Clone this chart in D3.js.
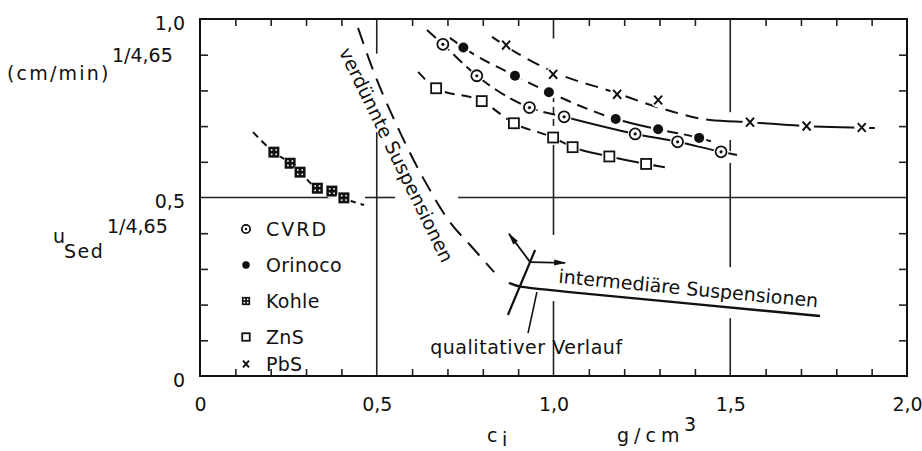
<!DOCTYPE html>
<html>
<head>
<meta charset="utf-8">
<script src="https://cdn.jsdelivr.net/npm/d3@7"></script>
<style>
body { margin: 0; background: #fff; }
text { font-family: "DejaVu Sans", sans-serif; fill: #111; font-size: 19px; }
</style>
</head>
<body>
<script>
// canvas and plot frame
const width = 922, height = 451;
const frameL = 200, frameR = 907, frameT = 19, frameB = 376;

// ---- data ----
// c_i in g/cm3, u_Sed^(1/4.65) in (cm/min)^(1/4.65)
const cvrdC = [0.687, 0.783, 0.932, 1.030, 1.231, 1.351, 1.474];
const cvrdU = [0.929, 0.841, 0.752, 0.726, 0.678, 0.656, 0.628];
const orinocoC = [0.745, 0.891, 0.987, 1.176, 1.296, 1.412];
const orinocoU = [0.920, 0.841, 0.795, 0.720, 0.691, 0.667];
const kohleC = [0.209, 0.255, 0.283, 0.332, 0.373, 0.407];
const kohleU = [0.627, 0.596, 0.571, 0.526, 0.518, 0.499];
const znsC = [0.668, 0.797, 0.888, 0.999, 1.054, 1.158, 1.262];
const znsU = [0.806, 0.770, 0.708, 0.668, 0.641, 0.615, 0.594];
const pbsC = [0.866, 0.999, 1.180, 1.296, 1.556, 1.716, 1.872];
const pbsU = [0.927, 0.845, 0.789, 0.773, 0.711, 0.700, 0.696];

// where the drawn trend lines begin and end
const cvrdEnds = [[0.642, 0.969], [1.519, 0.619]];
const orinocoEnds = [[0.707, 0.947], [1.460, 0.653]];
const kohleEnds = [[0.150, 0.683], [0.464, 0.479]];
const znsEnds = [[0.617, 0.852], [1.315, 0.585]];
// PbS trend line does not go through every point
const pbsLineC = [0.826, 0.891, 0.999, 1.168, 1.321, 1.443, 1.556, 1.697, 1.909];
const pbsLineU = [0.950, 0.908, 0.852, 0.796, 0.745, 0.717, 0.711, 0.701, 0.695];

// qualitative curves
const duenneC = [0.447, 0.495, 0.560, 0.631, 0.707, 0.764, 0.832];
const duenneU = [0.975, 0.843, 0.695, 0.555, 0.431, 0.367, 0.291];
const interC = [0.874, 0.905, 0.948, 1.754];
const interU = [0.261, 0.249, 0.244, 0.168];

const xTickVals = [0, 0.5, 1.0, 1.5, 2.0];
const yTickVals = [0, 0.5, 1.0];
const legendNames = ["CVRD", "Orinoco", "Kohle", "ZnS", "PbS"];

// ---- scales ----
const x = d3.scaleLinear().domain([0, 2]).range([frameL, frameR]);
const y = d3.scaleLinear().domain([0, 1]).range([frameB, frameT]);
const fmt = d => d === 0 ? "0" : d3.format(".1f")(d).replace(".", ",");

const svg = d3.select("body").append("svg")
  .attr("width", width).attr("height", height);
const defs = svg.append("defs");

defs.append("marker")
  .attr("id", "arrow")
  .attr("viewBox", "0 0 12 8")
  .attr("refX", 11).attr("refY", 4)
  .attr("markerUnits", "userSpaceOnUse")
  .attr("markerWidth", 13).attr("markerHeight", 8)
  .attr("orient", "auto")
  .append("path").attr("d", "M0,1 L12,4 L0,7 Z").attr("fill", "#111");

// ---- grid lines (interrupted where curves / labels cross) ----
const gridSegs = [
  {x: 0.5, y0: 0.903, y1: 1}, {x: 0.5, y0: 0, y1: 0.683},
  {x: 1.0, y0: 0.945, y1: 1}, {x: 1.0, y0: 0.633, y1: 0.787, dash: "7,5"},
  {x: 1.0, y0: 0.395, y1: 0.633}, {x: 1.0, y0: 0, y1: 0.21},
  {x: 1.5, y0: 0.739, y1: 1}, {x: 1.5, y0: 0.63, y1: 0.661},
  {x: 1.5, y0: 0.305, y1: 0.597}, {x: 1.5, y0: 0, y1: 0.162},
  {y: 0.5, x0: 0, x1: 0.375}, {y: 0.5, x0: 0.467, x1: 0.552},
  {y: 0.5, x0: 0.73, x1: 2}
];
svg.append("g").selectAll("line")
  .data(gridSegs)
  .enter().append("line")
  .attr("x1", d => d.x !== undefined ? x(d.x) : x(d.x0))
  .attr("x2", d => d.x !== undefined ? x(d.x) : x(d.x1))
  .attr("y1", d => d.x !== undefined ? y(d.y0) : y(d.y))
  .attr("y2", d => d.x !== undefined ? y(d.y1) : y(d.y))
  .attr("stroke", "#222").attr("stroke-width", 1.6)
  .attr("stroke-dasharray", d => d.dash || null);

// ---- minor ticks (inward) on all four sides ----
const notMajor = v => Math.abs(v * 2 - Math.round(v * 2)) > 1e-6;
const minorX = d3.range(1, 20).map(i => i / 10).filter(notMajor);
const minorY = d3.range(1, 10).map(i => i / 10).filter(notMajor);

function tickAxis(axis, tx, ty) {
  const g = svg.append("g").attr("transform", `translate(${tx},${ty})`).call(axis);
  g.select(".domain").remove();
  g.selectAll("line").attr("stroke", "#222").attr("stroke-width", 1.6);
  return g;
}
tickAxis(d3.axisBottom(x).tickValues(minorX).tickSize(-7).tickFormat(""), 0, frameB);
tickAxis(d3.axisTop(x).tickValues(minorX).tickSize(-7).tickFormat(""), 0, frameT);
tickAxis(d3.axisLeft(y).tickValues(minorY).tickSize(-8).tickFormat(""), frameL, 0);
tickAxis(d3.axisRight(y).tickValues(minorY).tickSize(-8).tickFormat(""), frameR, 0);

// tick labels
const xLab = svg.append("g").attr("transform", `translate(0,${frameB})`)
  .call(d3.axisBottom(x).tickValues(xTickVals).tickSize(0).tickPadding(22).tickFormat(fmt));
xLab.select(".domain").remove();
xLab.selectAll("text").attr("font-size", 19).attr("font-family", "DejaVu Sans").attr("fill", "#111");

const yLab = svg.append("g").attr("transform", `translate(${frameL},0)`)
  .call(d3.axisLeft(y).tickValues(yTickVals).tickSize(0).tickPadding(15).tickFormat(fmt));
yLab.select(".domain").remove();
yLab.selectAll("text").attr("font-size", 19).attr("font-family", "DejaVu Sans")
  .attr("fill", "#111").attr("dy", "0.55em");

// frame
svg.append("rect")
  .attr("x", frameL).attr("y", frameT)
  .attr("width", frameR - frameL).attr("height", frameB - frameT)
  .attr("fill", "none").attr("stroke", "#111").attr("stroke-width", 2);

// ---- trend lines ----
const line = d3.line().x(d => x(d[0])).y(d => y(d[1])).curve(d3.curveMonotoneX);
const zip = (a, b) => a.map((v, i) => [v, b[i]]);
const withEnds = (c, u, ends) => [ends[0], ...zip(c, u), ends[1]];

let clipId = 0;
// sections: [from c, to c, dasharray or null]
function trend(pts, sections, w) {
  sections.forEach(s => {
    const id = "clip" + (clipId++);
    defs.append("clipPath").attr("id", id).append("rect")
      .attr("x", x(s[0])).attr("y", 0)
      .attr("width", x(s[1]) - x(s[0])).attr("height", height);
    svg.append("path")
      .attr("d", line(pts))
      .attr("clip-path", `url(#${id})`)
      .attr("fill", "none").attr("stroke", "#111")
      .attr("stroke-width", w || 2)
      .attr("stroke-dasharray", s[2]);
  });
}
trend(withEnds(cvrdC, cvrdU, cvrdEnds), [[-1, 1.03, "12,6"], [1.03, 3, null]]);
trend(withEnds(orinocoC, orinocoU, orinocoEnds), [[-1, 1.17, "11,7"], [1.17, 1.30, null], [1.30, 3, "11,6"]]);
trend(withEnds(kohleC, kohleU, kohleEnds), [[-1, 3, "7,5"]]);
trend(withEnds(znsC, znsU, znsEnds), [[-1, 1.0, "10,7"], [1.0, 3, null]]);
trend(zip(pbsLineC, pbsLineU), [[-1, 1.44, "13,8"], [1.44, 3, null]]);

// verduennte Suspensionen: long dashes
svg.append("path")
  .attr("d", d3.line().x(d => x(d[0])).y(d => y(d[1])).curve(d3.curveCatmullRom)(zip(duenneC, duenneU)))
  .attr("fill", "none").attr("stroke", "#111").attr("stroke-width", 2)
  .attr("stroke-dasharray", "17,10");

// intermediaere Suspensionen: solid line
svg.append("path")
  .attr("d", d3.line().x(d => x(d[0])).y(d => y(d[1])).curve(d3.curveBasis)(zip(interC, interU)))
  .attr("fill", "none").attr("stroke", "#111").attr("stroke-width", 2.4);

// ---- markers ----
function marker(g, type, cx, cy, s) {
  s = s || 1;
  if (type === "CVRD") {
    g.append("circle").attr("cx", cx).attr("cy", cy).attr("r", 5.5 * s)
      .attr("fill", "#fff").attr("stroke", "#111").attr("stroke-width", 1.8);
    g.append("circle").attr("cx", cx).attr("cy", cy).attr("r", 1.6 * s).attr("fill", "#111");
  } else if (type === "Orinoco") {
    g.append("circle").attr("cx", cx).attr("cy", cy).attr("r", 5 * s).attr("fill", "#111");
  } else if (type === "Kohle") {
    const h = 5.5 * s;
    g.append("rect").attr("x", cx - h).attr("y", cy - h).attr("width", 2 * h).attr("height", 2 * h)
      .attr("fill", "#111");
    [[-1, -1], [1, -1], [-1, 1], [1, 1]].forEach(o => {
      g.append("rect").attr("x", cx + o[0] * 2.2 * s - 0.8).attr("y", cy + o[1] * 2.2 * s - 0.8)
        .attr("width", 1.6).attr("height", 1.6).attr("fill", "#fff");
    });
  } else if (type === "ZnS") {
    const h = 5 * s;
    g.append("rect").attr("x", cx - h).attr("y", cy - h).attr("width", 2 * h).attr("height", 2 * h)
      .attr("fill", "#fff").attr("stroke", "#111").attr("stroke-width", 1.8);
  } else if (type === "PbS") {
    const h = 4 * s;
    g.append("path")
      .attr("d", `M${cx - h},${cy - h * 1.1}L${cx + h},${cy + h * 1.1}M${cx + h},${cy - h * 1.1}L${cx - h},${cy + h * 1.1}`)
      .attr("stroke", "#111").attr("stroke-width", 2).attr("fill", "none");
  }
}

const series = [
  {name: "CVRD", c: cvrdC, u: cvrdU},
  {name: "Orinoco", c: orinocoC, u: orinocoU},
  {name: "Kohle", c: kohleC, u: kohleU},
  {name: "ZnS", c: znsC, u: znsU},
  {name: "PbS", c: pbsC, u: pbsU}
];
const mg = svg.append("g");
series.forEach(s => {
  s.c.forEach((c, i) => {
    // white halo gives the small gap where the line meets the symbol
    mg.append("circle").attr("cx", x(c)).attr("cy", y(s.u[i])).attr("r", 7.5).attr("fill", "#fff");
    marker(mg, s.name, x(c), y(s.u[i]));
  });
});

// ---- legend ----
const lg = svg.append("g");
const legY = [229, 265, 301, 337, 364];
legendNames.forEach((n, i) => {
  marker(lg, n, 246, legY[i], 0.75);
  lg.append("text").attr("x", 266).attr("y", legY[i] + 7)
    .attr("letter-spacing", n === "CVRD" ? 2 : 0.3)
    .text(n);
});

// ---- annotations ----
svg.append("text")
  .attr("transform", `translate(${x(0.392)},${y(0.908)}) rotate(64)`)
  .text("verdünnte Suspensionen");
svg.append("text")
  .attr("transform", `translate(${x(1.013)},${y(0.261)}) rotate(5.4)`)
  .text("intermediäre Suspensionen");
svg.append("text")
  .attr("x", x(0.651)).attr("y", y(0.062))
  .attr("textLength", 192)
  .text("qualitativer Verlauf");

const seg = (a, b, w, arrow) => svg.append("line")
  .attr("x1", x(a[0])).attr("y1", y(a[1])).attr("x2", x(b[0])).attr("y2", y(b[1]))
  .attr("stroke", "#111").attr("stroke-width", w)
  .attr("marker-end", arrow ? "url(#arrow)" : null);
seg([0.871, 0.171], [0.948, 0.353], 2.2);
seg([0.928, 0.120], [0.953, 0.235], 1.6);
seg([0.934, 0.319], [0.874, 0.398], 1.8, true);
seg([0.934, 0.319], [1.033, 0.317], 1.8, true);

// ---- axis titles ----
svg.append("text").attr("x", 7).attr("y", 80).attr("font-size", 21).attr("letter-spacing", 2.2).text("(cm/min)");
svg.append("text").attr("x", 112).attr("y", 62).attr("font-size", 15.5).text("1/4,65");
svg.append("text").attr("x", 53).attr("y", 243).attr("font-size", 20).text("u");
svg.append("text").attr("x", 64).attr("y", 258).attr("font-size", 19).attr("letter-spacing", 1.5).text("Sed");
svg.append("text").attr("x", 107).attr("y", 233).attr("font-size", 15.5).text("1/4,65");

svg.append("text").attr("x", 487).attr("y", 442).text("c");
svg.append("text").attr("x", 502).attr("y", 446).attr("font-size", 13).text("i");
svg.append("text").attr("x", 617).attr("y", 442).attr("letter-spacing", 5).text("g/cm");
svg.append("text").attr("x", 684).attr("y", 431).attr("font-size", 14).text("3");
</script>
</body>
</html>
